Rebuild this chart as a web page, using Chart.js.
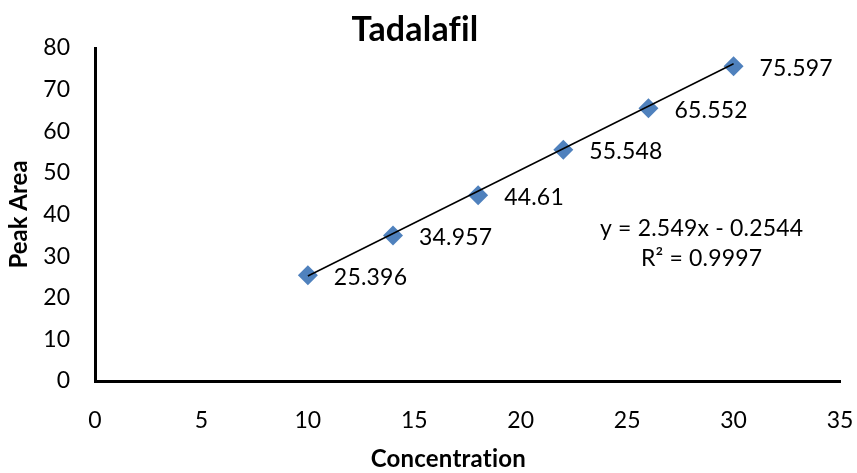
<!DOCTYPE html>
<html>
<head>
<meta charset="utf-8">
<script src="https://cdn.jsdelivr.net/npm/chart.js@4"></script>
<style>
  html, body { margin: 0; padding: 0; background: #fff; }
  #wrap { width: 857px; height: 473px; }
</style>
</head>
<body>
<div id="wrap"><canvas id="myChart" width="857" height="473"></canvas></div>
<script>
"use strict";

// values
const concentration = [10, 14, 18, 22, 26, 30];
const peakArea = [25.396, 34.957, 44.61, 55.548, 65.552, 75.597];
const pointLabels = ["25.396", "34.957", "44.61", "55.548", "65.552", "75.597"];

// trendline shown on the chart
const slope = 2.549;
const intercept = -0.2544;
const rSquared = "0.9997";
const trendRange = [10, 30];

const chartTitle = "Tadalafil";
const xTitle = "Concentration";
const yTitle = "Peak Area";

const blue = "#4F81BD";
const fontFamily = "Lato, 'Open Sans', sans-serif";

Chart.defaults.font.family = fontFamily;
Chart.defaults.color = "#000";

const ctx = document.getElementById("myChart");

const points = concentration.map((x, i) => ({ x: x, y: peakArea[i] }));
const trend = trendRange.map((x) => ({ x: x, y: slope * x + intercept }));

// title, data labels, equation and x axis title
const textPlugin = {
  id: "texts",
  afterDatasetsDraw(chart) {
    const c = chart.ctx;
    const xs = chart.scales.x;
    const ys = chart.scales.y;
    c.save();
    c.fillStyle = "#000";
    // small spacing keeps "fi" / "ti" from turning into ligatures
    if ("letterSpacing" in c) c.letterSpacing = "0.2px";

    c.font = "bold 34px " + fontFamily;
    c.textAlign = "center";
    c.textBaseline = "alphabetic";
    c.fillText(chartTitle, 415, 41);

    c.font = "23px " + fontFamily;
    c.textAlign = "left";
    c.textBaseline = "middle";
    points.forEach((p, i) => {
      c.fillText(pointLabels[i], xs.getPixelForValue(p.x) + 26, ys.getPixelForValue(p.y) + 2);
    });

    c.textAlign = "center";
    const eqSign = intercept < 0 ? " - " : " + ";
    c.fillText("y = " + slope + "x" + eqSign + Math.abs(intercept), xs.getPixelForValue(28.5), ys.getPixelForValue(36.7));
    c.fillText("R\u00B2 = " + rSquared, xs.getPixelForValue(28.5), ys.getPixelForValue(29.5));

    c.font = "bold 24px " + fontFamily;
    c.fillText(xTitle, xs.getPixelForValue(16.6), 459);
    c.restore();
  },
};

new Chart(ctx, {
  type: "scatter",
  data: {
    datasets: [
      {
        type: "line",
        label: "Linear",
        data: trend,
        borderColor: "#000",
        borderWidth: 1.5,
        pointRadius: 0,
        fill: false,
        order: 0,
      },
      {
        label: "Tadalafil",
        data: points,
        pointStyle: "rectRot",
        pointRadius: 10,
        pointBackgroundColor: blue,
        pointBorderColor: blue,
        pointBorderWidth: 0,
        order: 1,
      },
    ],
  },
  options: {
    responsive: false,
    animation: false,
    layout: {
      padding: { top: 48, right: 0, bottom: 0, left: 0 },
    },
    scales: {
      x: {
        type: "linear",
        min: 0,
        max: 35,
        afterFit: (s) => {
          s.height = 92;
          s.paddingLeft = 0;
          s.paddingRight = 17;
        },
        ticks: { stepSize: 5, padding: 26, font: { size: 23 } },
        grid: { display: false, drawTicks: false },
        border: { display: true, color: "#000", width: 3 },
      },
      y: {
        min: 0,
        max: 80,
        afterFit: (s) => { s.width = 95; },
        ticks: { stepSize: 10, padding: 25, font: { size: 23 } },
        grid: { display: false, drawTicks: false },
        border: { display: true, color: "#000", width: 3 },
        title: {
          display: true,
          text: yTitle,
          font: { size: 24, weight: "bold" },
          padding: { top: 5, bottom: 0 },
        },
      },
    },
    plugins: {
      legend: { display: false },
      tooltip: { enabled: false },
      title: { display: false },
    },
  },
  plugins: [textPlugin],
});
</script>
</body>
</html>
